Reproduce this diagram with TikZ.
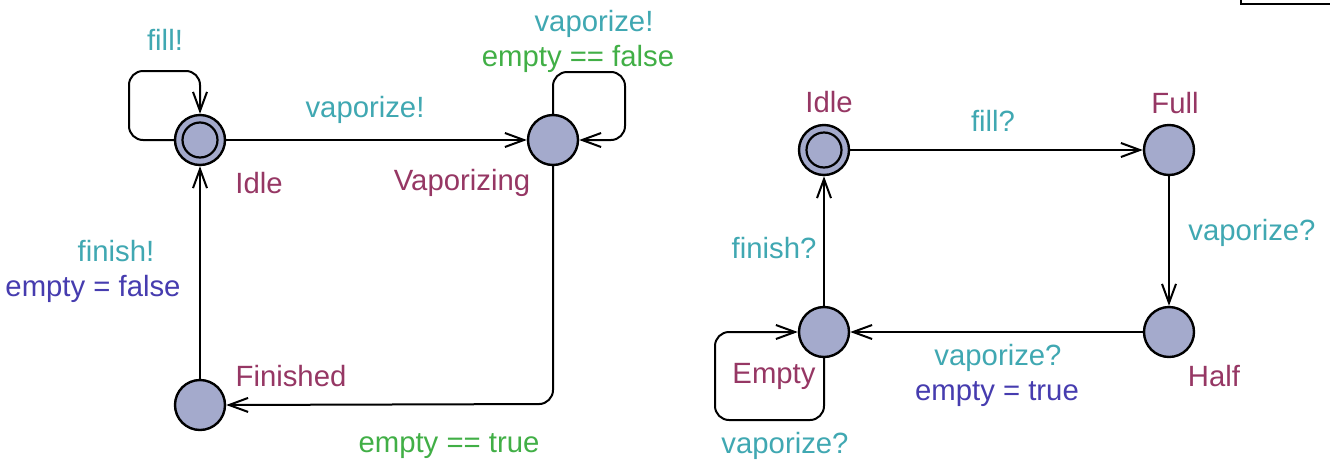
\documentclass[tikz,border=0pt]{standalone}
\usepackage{fontspec}
\setmainfont{Liberation Sans}
\usetikzlibrary{arrows.meta}
\definecolor{lteal}{RGB}{64,168,178}
\definecolor{lpurple}{RGB}{150,55,100}
\definecolor{lblue}{RGB}{70,60,175}
\definecolor{lgreen}{RGB}{65,175,70}
\definecolor{statefill}{RGB}{164,170,204}
\begin{document}
\begin{tikzpicture}[x=1pt,y=-1pt,
  every node/.style={font=\fontsize{29.3}{35}\selectfont},
  state/.style={circle, draw, fill=statefill, line width=2.4pt, minimum size=50pt, inner sep=0pt},
  initstate/.style={state, path picture={\draw[line width=2.2pt] (path picture bounding box.center) circle (17.5pt);}},
  lbl/.style={inner sep=0pt, anchor=center, yshift=-2pt},
  edge/.style={line width=2pt, rounded corners=14pt, -{Straight Barb[length=19pt,width=14pt,line width=2pt]}},
  synch/.style={lbl, text=lteal},
  loc/.style={lbl, text=lpurple},
  assign/.style={lbl, text=lblue},
  guard/.style={lbl, text=lgreen}]
\fill[white] (0,0) rectangle (1330,461);
\useasboundingbox (0,0) rectangle (1330,461);
% stray frame corner at top right
\draw[line width=2pt] (1241,0) -- (1241,4) -- (1331,4);

% ---- left automaton ----
\node[initstate] (li) at (200,140) {};
\node[state] (lv) at (553,140) {};
\node[state] (lf) at (200,405) {};

\draw[edge] (li.west) -- (129,140) -- (129,71) -- (200,71) -- (li.north);
\draw[edge] (li) -- (lv);
\draw[edge] (lv.north) -- (553,72) -- (625,72) -- (625,140) -- (lv.east);
\draw[edge] (lv.south) -- (553,404) -- (lf.east);
\draw[edge] (lf) -- (li);

\node[synch] (t1) at (165,38) {fill!};
\node[synch] (t2) at (365,108) {vaporize!};
\node[loc] (t3) at (259,181) {Idle};
\node[loc] (t4) at (462,181) {Vaporizing};
\node[synch] (t5) at (594,22) {vaporize!};
\node[guard] (t6) at (578,57) {empty == false};
\node[synch] (t7) at (116,249) {finish!};
\node[assign] (t8) at (93,287) {empty = false};
\node[loc] (t9) at (291,374) {Finished};
\node[guard] (t10) at (449,444) {empty == true};

% ---- right automaton ----
\node[initstate] (ri) at (824,150) {};
\node[state] (rf) at (1169,150) {};
\node[state] (rh) at (1169,332) {};
\node[state] (re) at (824,332) {};

\draw[edge] (ri) -- (rf);
\draw[edge] (rf) -- (rh);
\draw[edge] (rh) -- (re);
\draw[edge] (re) -- (ri);
\draw[edge] (re.south) -- (824,420) -- (715,420) -- (715,332) -- (re.west);

\node[loc] (u1) at (829,100) {Idle};
\node[synch] (u2) at (993,119) {fill?};
\node[loc] (u3) at (1175,101) {Full};
\node[synch] (u4) at (1252,231) {vaporize?};
\node[loc] (u5) at (1214,374) {Half};
\node[synch] (u6) at (998,356) {vaporize?};
\node[assign] (u7) at (997,392) {empty = true};
\node[synch] (u8) at (774,246) {finish?};
\node[loc] (u9) at (774,374) {Empty};
\node[synch] (u10) at (785,444) {vaporize?};
\end{tikzpicture}
\end{document}
